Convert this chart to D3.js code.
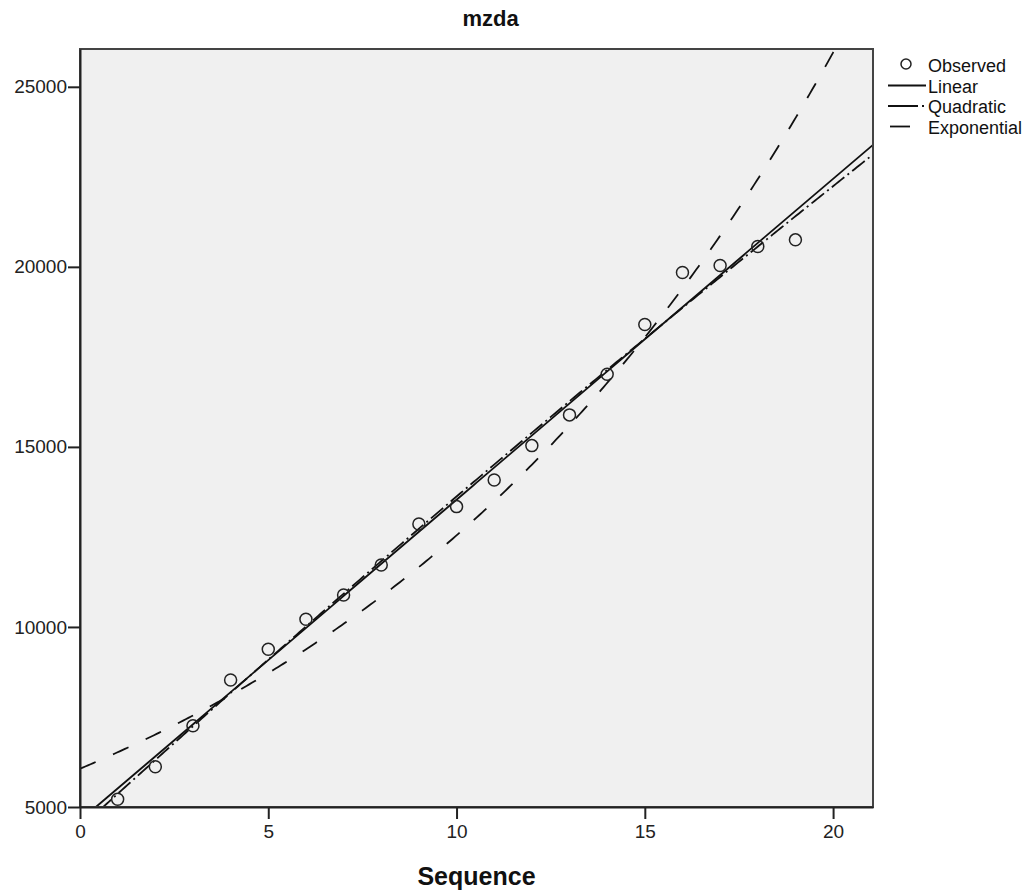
<!DOCTYPE html>
<html>
<head>
<meta charset="utf-8">
<script src="https://d3js.org/d3.v7.min.js"></script>
<style>
  body { margin: 0; background: white; }
  text { font-family: "Liberation Sans", Arial, sans-serif; }
</style>
</head>
<body>
<svg id="chart" width="1034" height="891"></svg>
<script>
// observed values of mzda by sequence
var sequence = [1, 2, 3, 4, 5, 6, 7, 8, 9, 10, 11, 12, 13, 14, 15, 16, 17, 18, 19]
var mzda = [5214, 6119, 7258, 8528, 9380, 10214, 10889, 11722, 12861, 13342,
            14083, 15036, 15889, 17019, 18398, 19843, 20037, 20565, 20750]
var xTicks = [0, 5, 10, 15, 20]
var yTicks = [5000, 10000, 15000, 20000, 25000]
var legendLabels = ['Observed', 'Linear', 'Quadratic', 'Exponential']

document.addEventListener('DOMContentLoaded', function() {
    var svg = d3.select('#chart')
    var left = 80, right = 873, top = 49, bottom = 807

    var x = d3.scaleLinear().domain([0, 21.06]).range([left, right])
    var y = d3.scaleLinear().domain([5000, 26050]).range([bottom, top])

    // least squares fits from the observed data
    var n = sequence.length
    var mt = d3.mean(sequence), my = d3.mean(mzda)
    var sxx = d3.sum(sequence, function(t) { return (t - mt) * (t - mt) })
    var sxy = d3.sum(sequence, function(t, i) { return (t - mt) * (mzda[i] - my) })
    var b1 = sxy / sxx, b0 = my - b1 * mt

    var lny = mzda.map(Math.log)
    var ml = d3.mean(lny)
    var sxl = d3.sum(sequence, function(t, i) { return (t - mt) * (lny[i] - ml) })
    var e1 = sxl / sxx, e0 = Math.exp(ml - e1 * mt)

    // quadratic: solve normal equations
    function S(p, q) { return d3.sum(sequence, function(t, i) { return Math.pow(t, p) * (q ? mzda[i] : 1) }) }
    var A = [[n, S(1), S(2)], [S(1), S(2), S(3)], [S(2), S(3), S(4)]]
    var B = [S(0, 1), S(1, 1), S(2, 1)]
    function solve(A, B) {
        var M = A.map(function(r, i) { return r.concat([B[i]]) })
        for (var i = 0; i < 3; i++) {
            for (var k = i + 1; k < 3; k++) {
                var f = M[k][i] / M[i][i]
                for (var j = i; j < 4; j++) M[k][j] -= f * M[i][j]
            }
        }
        var r = [0, 0, 0]
        for (var i = 2; i >= 0; i--) {
            var s = M[i][3]
            for (var j = i + 1; j < 3; j++) s -= M[i][j] * r[j]
            r[i] = s / M[i][i]
        }
        return r
    }
    var q = solve(A, B)

    var models = [
        { name: 'Linear', f: function(t) { return b0 + b1 * t }, dash: null },
        { name: 'Quadratic', f: function(t) { return q[0] + q[1] * t + q[2] * t * t }, dash: '16,4,2,4' },
        { name: 'Exponential', f: function(t) { return e0 * Math.exp(e1 * t) }, dash: '17,19' }
    ]

    // plot background
    svg.append('rect')
        .attr('x', left).attr('y', top)
        .attr('width', right - left).attr('height', bottom - top)
        .style('fill', '#f0f0f0')

    svg.append('clipPath').attr('id', 'clip')
        .append('rect')
        .attr('x', left).attr('y', top)
        .attr('width', right - left).attr('height', bottom - top)

    var g = svg.append('g').attr('clip-path', 'url(#clip)')

    var ts = d3.range(0, 301).map(function(i) { return 21.06 * i / 300 })
    models.forEach(function(m) {
        var line = d3.line()
            .x(function(t) { return x(t) })
            .y(function(t) { return y(m.f(t)) })
        g.append('path')
            .attr('d', line(ts))
            .style('fill', 'none')
            .style('stroke', '#111')
            .style('stroke-width', 1.8)
            .style('stroke-dasharray', m.dash)
    })

    g.selectAll('circle.obs')
        .data(sequence)
        .enter().append('circle')
        .attr('class', 'obs')
        .attr('cx', function(t) { return x(t) })
        .attr('cy', function(t, i) { return y(mzda[i]) })
        .attr('r', 6)
        .style('fill', 'none')
        .style('stroke', '#222')
        .style('stroke-width', 1.5)

    // frame
    svg.append('rect')
        .attr('x', left).attr('y', top)
        .attr('width', right - left).attr('height', bottom - top)
        .style('fill', 'none')
        .style('stroke', '#444')
        .style('stroke-width', 2)

    // axes
    var yAxis = d3.axisLeft(y).tickValues(yTicks).tickFormat(d3.format('d'))
        .tickSize(12).tickPadding(1).tickSizeOuter(0)
    var gy = svg.append('g').attr('transform', 'translate(' + left + ',0)').call(yAxis)
    var xAxis = d3.axisBottom(x).tickValues(xTicks).tickFormat(d3.format('d'))
        .tickSize(12).tickPadding(6).tickSizeOuter(0)
    var gx = svg.append('g').attr('transform', 'translate(0,' + bottom + ')').call(xAxis)
    ;[gx, gy].forEach(function(a) {
        a.select('.domain').style('stroke', '#222').style('stroke-width', 2)
        a.selectAll('.tick line').style('stroke', '#222').style('stroke-width', 2)
        a.selectAll('.tick text')
            .style('font-family', '"Liberation Sans", Arial, sans-serif')
            .style('font-size', '19px')
            .style('fill', '#222')
    })

    // title and axis label
    svg.append('text')
        .attr('x', (left + right) / 2 + 14).attr('y', 26)
        .style('text-anchor', 'middle')
        .style('font-size', '22px')
        .style('font-weight', 'bold')
        .style('fill', '#111')
        .text('mzda')

    svg.append('text')
        .attr('x', (left + right) / 2).attr('y', 885)
        .style('text-anchor', 'middle')
        .style('font-size', '25px')
        .style('font-weight', 'bold')
        .style('fill', '#111')
        .text('Sequence')

    // legend
    var lg = svg.append('g')
    legendLabels.forEach(function(name, i) {
        var cy = 65 + i * 20.5
        if (i == 0) {
            lg.append('circle')
                .attr('cx', 906).attr('cy', cy - 1).attr('r', 5)
                .style('fill', 'none').style('stroke', '#222').style('stroke-width', 1.5)
        } else {
            var x2 = name == 'Exponential' ? 910 : 926
            lg.append('line')
                .attr('x1', name == 'Exponential' ? 890 : 888).attr('x2', x2)
                .attr('y1', cy).attr('y2', cy)
                .style('stroke', '#111').style('stroke-width', 1.8)
                .style('stroke-dasharray', name == 'Quadratic' ? '30,4,2,4' : null)
        }
        lg.append('text')
            .attr('x', 928).attr('y', cy + 7)
            .style('font-size', '18px')
            .style('fill', '#111')
            .text(name)
    })
});
</script>
</body>
</html>
